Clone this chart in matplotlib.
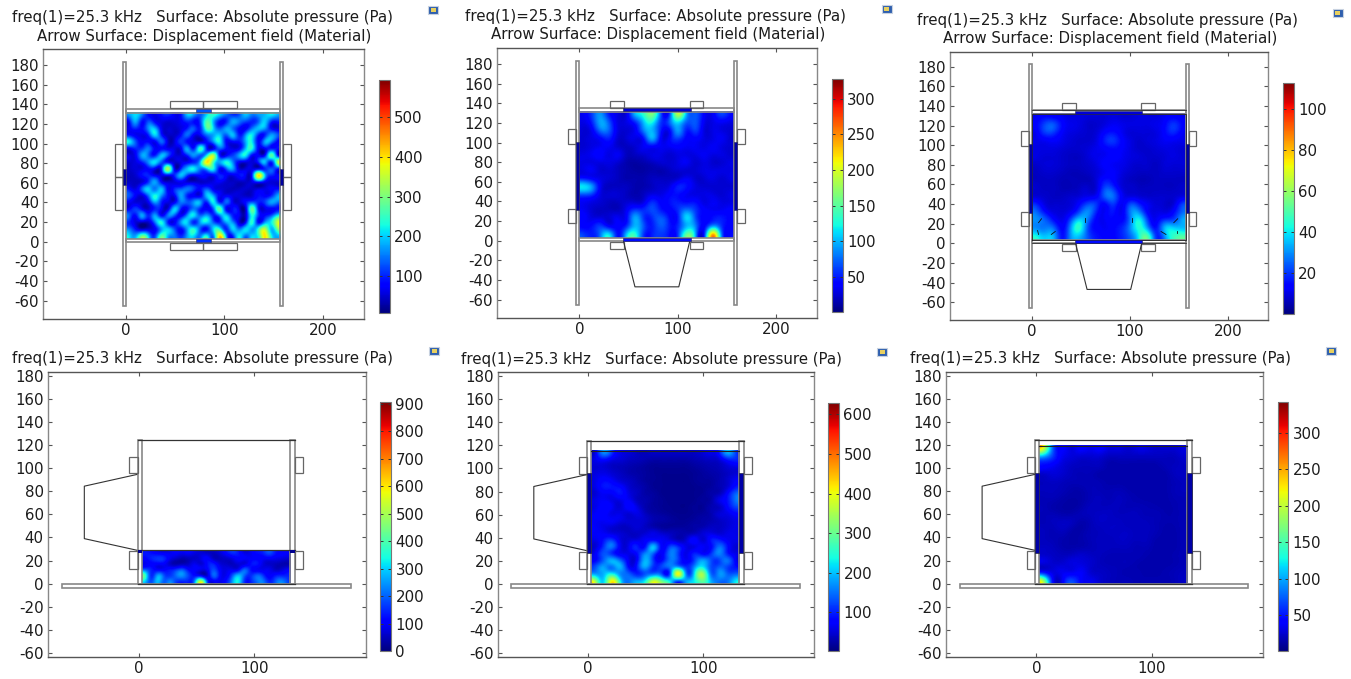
import numpy as np
import matplotlib
matplotlib.use("Agg")
import matplotlib.pyplot as plt
from matplotlib.patches import Rectangle
from matplotlib.cm import ScalarMappable
from matplotlib.colors import Normalize

plt.rcParams['font.family'] = 'DejaVu Sans'
plt.rcParams['axes.unicode_minus'] = False

W, H = 1351, 679
TITLE1 = "freq(1)=25.3 kHz   Surface: Absolute pressure (Pa)"
TITLE2 = "Arrow Surface: Displacement field (Material)"
Y_TICKS = [-60, -40, -20, 0, 20, 40, 60, 80, 100, 120, 140, 160, 180]
X_TICKS_TOP = [0, 100, 200]
X_TICKS_BOTTOM = [0, 100]

# colour ranges (Pa) and colourbar ticks
RANGE = [(8, 594), (1, 327), (0.2, 113), (0, 905), (2, 629), (1, 342)]
CB_TICKS = [[100, 200, 300, 400, 500], [50, 100, 150, 200, 250, 300],
            [20, 40, 60, 80, 100], [0, 100, 200, 300, 400, 500, 600, 700, 800, 900],
            [100, 200, 300, 400, 500, 600], [50, 100, 150, 200, 250, 300]]

# pressure fields, rows top to bottom
P1 = [
[165,210,150, 85, 60, 85,100, 70, 85,190,165,130,210,240,190,140,115,130,190,150,165,190,210,175],
[ 85,175, 85,130, 85, 60, 50, 55, 70,100, 85,115,270,190, 85,100,175,150,115,100,140,200, 100, 85],
[ 70,100, 85,165,190, 70, 50, 45, 60,100,130,100,255,210,130,175,150, 85, 75,150,190,165, 85, 60],
[100, 70, 60,100,200,100, 45, 45, 85,140, 70, 70,140,175,200,130,190,100,165,220,100,100,175,130],
[220,130, 75, 85, 70,140, 55, 55,115, 85, 60, 60, 85,150,220, 85, 75, 85,175,220, 85,175,150, 75],
[ 70,100,115,150, 75, 85, 70, 60, 70,175,100,250,100, 70,130, 85, 60, 75,190,230, 75, 70,100, 85],
[ 60, 75,175,140,100,190,130, 60, 55,100,165,130,220,340,100, 75,115,175,220, 85, 75, 85,270,100],
[ 50, 60,100,165,210,130, 85, 50, 60, 70,100,190,400,270,175,230,165, 75, 60, 55,100,190,100,320],
[ 45, 55, 60, 85, 70,100,330, 75,100,190,220,150,190,230, 85,130,175, 60, 55, 60, 75,100,130,100],
[ 40, 50, 85,100, 75, 60, 75,100,190,115, 70, 85, 75, 70,100, 75, 60, 85, 70,100,400,200,100, 75],
[ 45, 40, 55,115,175, 85, 50, 55, 70, 55, 50, 45, 50, 60, 70, 50, 45, 40, 45, 60,100, 70, 55, 50],
[ 85, 60,140,200,150,190, 75,100,130,150,115, 85,130, 75, 55, 45, 40, 45, 50, 45, 55, 60, 75, 85],
[130, 75, 60,150,230,165, 85, 75,175,100, 75, 70,190,175, 75, 70, 60, 55, 45, 50, 85, 75,100,175],
[ 70, 55, 50, 75,175,100, 60, 70,150,130,165,175,100,220,100,140, 70, 50, 85,130,100,115,175,150],
[ 75,115, 75, 50,100, 75, 60,200,100, 85,150,100, 75,130,270, 85, 85, 60, 50,280,100, 60, 75, 85],
[140, 85,175,100,175, 85,150,130, 75,165,210,140,175,100,150,200,100, 70, 50,230,115, 85,130,220],
[100, 55, 45, 50,150,230,100, 70,165,200,100,175,210,140,100,175,165, 60, 75,240, 85,165,220,360],
[150, 85, 45, 55, 75,175,200,130, 85,175,230,130, 85,200,230,100,200,150,210,175,240,340,190,300],
[210,175,280,190,115,270,190,150,100,175,210,150,220,150,400,175,100,220,150,200,240,400,230,190],
]
P2 = [
[ 35, 60, 90, 50, 30, 30, 95,130,160, 70, 60,180, 95, 70, 40, 35, 60, 45],
[ 30, 50, 95, 70, 30, 30, 50,100,120, 60, 70,110, 70, 70, 35, 30, 35, 30],
[ 25, 35, 75, 70, 30, 25, 35, 80,100, 50, 40, 90, 50, 60, 30, 30, 30, 25],
[ 25, 30, 40, 50, 25, 25, 30, 45, 95, 40, 40, 60, 40, 40, 30, 30, 35, 25],
[ 25, 30, 35, 35, 25, 20, 25, 35, 40, 35, 35, 40, 35, 35, 30, 35, 30, 25],
[ 30, 35, 40, 30, 35, 20, 20, 25, 30, 30, 25, 30, 30, 30, 35, 30, 30, 25],
[ 30, 30, 30, 30, 25, 15, 12, 15, 20, 25, 25, 30, 35, 25, 30, 25, 25, 30],
[ 30, 35, 25, 25, 20, 15, 12, 12, 15, 15, 20, 25, 25, 25, 30, 30, 30, 30],
[ 50, 40, 30, 25, 20, 15, 15, 15, 20, 20, 20, 25, 35, 25, 25, 30, 25, 30],
[115, 90, 35, 20, 20, 20, 15, 15, 20, 25, 30, 50, 45, 30, 25, 25, 25, 25],
[ 70, 60, 30, 25, 25, 20, 15, 20, 30, 30, 40, 45, 35, 30, 30, 30, 25, 30],
[ 35, 30, 25, 20, 20, 25, 25, 30, 55, 40, 45, 50, 45, 45, 30, 35, 30, 30],
[ 35, 25, 20, 20, 20, 35, 60, 55, 65, 50, 40, 55, 80, 60, 40, 35, 35, 40],
[ 40, 30, 30, 25, 35, 40, 95, 60, 55, 70, 45, 50,110, 70, 40, 45, 50, 40],
[ 40, 45, 60, 40, 40, 55,100, 70, 50, 70, 50, 55,100, 85, 40, 90, 60, 40],
[ 60, 50, 80,110, 45,100,130, 60, 50, 60, 45, 60,150,100, 45,230, 90, 40],
]
P3 = [
[12,15,14,12,10,10, 9, 9, 9,10, 9, 9,10,10,10,12,14,12],
[14,22,24,15,11,10, 8, 8,10,12,11,10,10,10,11,14,20,15],
[12,20,20,13,10, 9, 8, 9,14,16,12, 9, 9, 9,10,14,18,13],
[11,12,13,11, 9, 8, 8,10,17,20,14,10, 8, 9,10,12,12,11],
[10,10,10, 9, 8, 8, 9,11,13,15,13,10, 8, 8, 9,10,10, 9],
[10, 9, 9, 8, 7, 7, 9,11,12,14,12,10, 9, 8, 8, 9,10, 9],
[ 8, 9, 9, 8, 7, 7, 8,10,13,12,11, 9, 8, 8, 7, 9, 9, 9],
[ 7, 8, 8, 7, 6, 6, 7, 9,12,13,10, 8, 7, 7, 7, 8, 8, 8],
[ 7, 7, 7, 6, 6, 6, 6, 9,16,14, 9, 7, 6, 6, 7, 7, 7, 7],
[ 8, 7, 7, 6, 6, 7, 8, 9,22,20,10, 8, 7, 7, 7, 7, 7, 8],
[ 9, 8, 7, 7, 8, 9,11,13,24,26,13,10, 9, 8, 8, 8, 8,10],
[18,10, 8, 8, 9,14,22,20,14,20,12,22,18,12, 9, 8, 9,20],
[26,16,10, 9,12,22,30,18,12,16,12,28,30,14,10,10,14,25],
[30,25,16,11,22,38,28,14,12,14,14,28,42,22,12,20,22,32],
[30,28,26,14,30,45,24,14,12,14,18,30,44,32,16,34,38,36],
[42,36,34,16,30,36,24,16,14,14,18,26,42,50,20,30,46,50],
]
P4 = [
[130,120,100, 90, 90,100, 90,100, 80, 70, 60, 50, 70,110,150,130, 80, 90,120,140,180,130,110,100],
[110,140,160,150, 90, 60, 40, 50, 60, 80,110, 60, 50, 60, 80,110,100,100,110,100,100, 90, 80, 70],
[ 90,110,100,100, 60, 40, 50, 60, 90, 70,120,140, 80, 60, 50, 70, 80,120,130, 80, 60, 50, 40, 40],
[200,140,110,110,130,160,190,120,100, 80,100,180,110, 80, 90,110,200,130,100, 90, 90, 60, 70,100],
[380,150,250,190,160,210,240,170,120,100, 70,200,120, 90,180,280,200,150,200,160,100,130,140,140],
[300,180,280,200,230,170,150,140,240,520,180,100, 90,120,240,330,160,140,210,220,140,190,230,170],
]
P5 = [
[ 60,160,110, 60, 50, 40, 35, 40, 40, 40, 40, 40, 40, 50, 60, 90,180,120],
[ 60, 80, 60, 50, 40, 35, 30, 25, 25, 25, 25, 25, 30, 35, 40, 50, 90,100],
[ 50, 50, 40, 35, 30, 25, 20, 15, 15, 15, 15, 15, 20, 25, 30, 35, 50, 60],
[ 55, 60, 50, 40, 30, 25, 20, 15, 12, 12, 12, 12, 15, 20, 25, 30, 40, 50],
[ 60, 80, 70, 50, 40, 30, 20, 15, 12, 10, 10, 10, 15, 18, 20, 30, 45, 70],
[ 60, 90, 90, 80, 50, 35, 25, 15, 12, 10, 10, 10, 12, 15, 20, 30, 50, 90],
[ 50, 70, 70, 90, 60, 40, 25, 20, 12, 10, 10, 10, 12, 15, 25, 35, 80,140],
[ 60, 70, 60, 60, 70, 40, 30, 20, 15, 10, 10, 10, 12, 18, 25, 60, 90,150],
[ 60, 80, 70, 50, 80, 60, 30, 20, 15, 12, 10, 10, 15, 15, 30, 40, 80,120],
[ 70, 80, 60, 60, 50, 60, 40, 25, 20, 15, 12, 12, 15, 20, 30, 50, 60, 80],
[ 70, 70, 70, 60, 50, 50, 45, 30, 25, 20, 15, 15, 20, 25, 30, 40, 50, 60],
[ 70, 60, 50, 40, 40, 50, 40, 30, 20, 18, 20, 20, 25, 30, 40, 40, 50, 60],
[ 70, 70, 60, 50, 40, 40, 50, 60, 50, 40, 30, 30, 40, 50, 60, 50, 60, 60],
[ 60, 90,120, 60, 50, 60, 70, 90, 70, 60, 40, 50, 80, 50, 90,100, 70, 60],
[ 50,110,150, 70, 60,100, 90,200, 80,120,110, 60, 60, 70, 80,150, 90, 50],
[ 70,130,110, 70, 60, 80,160,140, 70,150,120, 60,100, 80,110,160,100, 60],
[ 80,140,190,150, 70, 70,190,120, 80,150,120, 70,120,180,130,120,150, 70],
[130,180,150,190, 90, 90,180,110,120,150,190,110,170,230,130,140,120, 90],
[180,190,240,170,140,100,130,150,130,120,400,160,220,340,150,170,140,140],
[340,210,400,240,150,180,220,360,300,220,150,180,230,300,190,150,150,220],
]
P6 = [
[200, 75, 40, 30, 40, 35, 40, 30, 30, 25, 30, 30, 25, 25, 25, 30],
[ 90, 60, 35, 28, 25, 25, 25, 20, 20, 20, 20, 20, 20, 20, 20, 25],
[ 45, 38, 28, 22, 20, 20, 20, 15, 15, 15, 15, 15, 15, 18, 20, 22],
[ 25, 28, 25, 20, 18, 18, 15, 15, 15, 15, 15, 15, 15, 15, 20, 22],
[ 20, 22, 20, 18, 18, 18, 17, 15, 15, 15, 15, 15, 15, 15, 18, 20],
[ 20, 20, 18, 15, 15, 18, 18, 17, 18, 16, 15, 15, 15, 15, 18, 20],
[ 18, 18, 15, 13, 14, 18, 20, 18, 20, 18, 16, 15, 15, 15, 17, 18],
[ 18, 15, 13, 12, 15, 20, 20, 20, 20, 18, 18, 17, 16, 15, 16, 18],
[ 18, 18, 16, 16, 18, 20, 22, 22, 20, 20, 20, 18, 18, 16, 16, 18],
[ 18, 20, 22, 20, 15, 18, 22, 22, 22, 20, 20, 20, 18, 16, 16, 18],
[ 20, 18, 20, 15, 14, 18, 20, 22, 22, 22, 20, 20, 18, 15, 15, 18],
[ 20, 18, 16, 14, 15, 18, 20, 20, 22, 22, 20, 20, 16, 15, 15, 18],
[ 22, 20, 16, 15, 16, 18, 20, 20, 20, 20, 18, 18, 15, 15, 15, 18],
[ 25, 22, 20, 22, 25, 22, 20, 18, 18, 18, 18, 16, 15, 15, 16, 18],
[ 28, 25, 26, 30, 30, 25, 20, 18, 18, 18, 16, 15, 15, 15, 16, 18],
[ 42, 30, 34, 34, 38, 26, 22, 20, 18, 16, 16, 15, 15, 16, 18, 20],
[170, 42, 36, 65, 42, 34, 25, 20, 18, 18, 16, 16, 16, 16, 18, 22],
]
FIELDS = [P1, P2, P3, P4, P5, P6]
FIELD_EXT = [(0, 157, 3, 131.5), (0, 157, 3, 131.5), (0, 157, 3, 131.5),
             (2.6, 131, 0, 29), (2.6, 131, 0, 115.5), (2.6, 131.5, 0, 119.5)]

# outlines of the device: (x, y, width, height)
TOP_PLATES = [(-3, -66, 3, 249), (157, -66, 3, 249), (0, 131.5, 157, 4), (0, 0, 157, 3)]
P1_PIECES = [(44.7, 136, 34, 7), (78.7, 136, 34, 7), (44.7, -8, 34, 7), (78.7, -8, 34, 7),
             (-11, 32, 8, 34), (-11, 66, 8, 34), (160, 32, 8, 34), (160, 66, 8, 34)]
P1_STRIPS = [(71, 132, 16, 3, 130), (71, 0, 16, 3, 110), (-3, 58, 3, 16, 25), (157, 58, 3, 16, 25)]
SIDE_PIECES = [(31, 135.5, 14, 7), (112, 135.5, 14, 7), (31, -8, 14, 7), (112, -8, 14, 7),
               (-11, 99, 8, 15), (-11, 18, 8, 14), (160, 99, 8, 15), (160, 18, 8, 14)]
P2_STRIPS = [(44, 132, 69, 3, 25), (44, 0, 69, 3, 45), (-3, 31, 3, 70, 12), (157, 31, 3, 70, 12)]
TRAP_TOP = ([45, 56.5, 101, 112], [-1, -47, -47, -1])
BOTTOM_PLATES = [(-66.5, -3.5, 250, 3.2), (-1, 0, 3.6, 124), (131, 0, 4, 124)]
BOTTOM_PIECES = [(-8, 95.5, 7, 14.5), (-8, 13, 7, 15), (135, 95.5, 7, 14.5), (135, 13, 7, 15)]
TRAP_BOTTOM = ([-1.7, -47, -47, -1.7], [94.5, 84.4, 39, 29])
P3_ARROWS = [(54, 22, 54, 26), (102, 22, 102, 26), (7, 21, 10, 25), (145, 21, 149, 25),
             (6, 13, 7, 9), (20, 9, 24, 12), (132, 12, 137, 9), (148, 13, 148, 10)]

# pixel layout: axes (left, right, top, bottom), x0 pixel, y0 pixel, x scale, y scale
AXES_PX = [(43.3, 364, 49.3, 319, 125.7, 241.7, 0.985, 0.9815),
           (497.3, 817.3, 48.3, 318.3, 579.3, 240.7, 0.985, 0.9815),
           (950, 1268.3, 51.7, 320.3, 1031.7, 243.3, 0.98, 0.9815),
           (47.7, 365.7, 371.7, 657.3, 138.7, 583.7, 1.157, 1.1555),
           (497.7, 814, 372.3, 657.3, 588, 584, 1.153, 1.1555),
           (945.7, 1262.7, 371.7, 657.3, 1036.3, 583.7, 1.153, 1.1555)]
CB_PX = [(379, 389.7, 80, 312.7), (832, 843, 79.3, 312), (1283.3, 1294, 82.7, 314),
         (380.3, 391.3, 402.3, 651), (828.3, 839.3, 403, 651), (1277.7, 1288.3, 402.3, 651)]
TITLE_PX = [(202, 17.5, 204, 36), (655.8, 16.7, 658, 35), (1107.7, 20.7, 1110, 39),
            (202.3, 358.3), (651.3, 359.3), (1100, 358.3)]
ICON_PX = [(433, 10), (886.7, 9.3), (1337.7, 13), (434, 351), (882.3, 352), (1331, 351)]

fig = plt.figure(figsize=(W / 100, H / 100), dpi=100, facecolor='white')
TEXT = '#1c1c1c'
FS = 10.8


def add_px_axes(l, r, t, b, **kw):
    return fig.add_axes([l / W, 1 - b / H, (r - l) / W, (b - t) / H], **kw)


def rects(ax, items, ec, lw=0.9, fc='none', z=4):
    for x, y, w, h in items:
        ax.add_patch(Rectangle((x, y), w, h, fc=fc, ec=ec, lw=lw, zorder=z))


for i in range(6):
    l, r, t, b, x0, y0, sx, sy = AXES_PX[i]
    ax = add_px_axes(l, r, t, b)
    vmin, vmax = RANGE[i]
    norm = Normalize(vmin, vmax)
    ax.imshow(np.array(FIELDS[i], float), cmap='jet', norm=norm, extent=FIELD_EXT[i],
              origin='upper', aspect='auto', interpolation='lanczos', zorder=2)
    ax.set_xlim((l - x0) / sx, (r - x0) / sx)
    ax.set_ylim((y0 - b) / sy, (y0 - t) / sy)
    edge = '#888888'
    dark = '#333333'
    if i < 3:
        rects(ax, TOP_PLATES, edge, lw=1.2)
        if i == 2:
            ax.plot([0, 157, 157, 0, 0], [3, 3, 131.5, 131.5, 3], color='#222222', lw=0.6, zorder=5)
            ax.plot([0, 157], [135.5, 135.5], color='#333333', lw=0.6, zorder=5)
            ax.plot([0, 157], [0, 0], color='#333333', lw=0.6, zorder=5)
        if i == 0:
            rects(ax, P1_PIECES, '#666666')
            for x, y, w, h, v in P1_STRIPS:
                ax.add_patch(Rectangle((x, y), w, h, fc=plt.cm.jet(norm(v)), ec='#333366', lw=0.4, zorder=5))
        else:
            rects(ax, SIDE_PIECES, '#666666')
            for x, y, w, h, v in P2_STRIPS:
                val = v * (vmax / 327)
                ax.add_patch(Rectangle((x, y), w, h, fc=plt.cm.jet(norm(val)), ec='#222255', lw=0.4, zorder=5))
            ax.plot(TRAP_TOP[0], TRAP_TOP[1], color=dark, lw=0.8, zorder=4)
        if i == 2:
            for xa, ya, xb, yb in P3_ARROWS:
                ax.plot([xa, xb], [ya, yb], color='#111111', lw=0.6, zorder=6)
    else:
        rects(ax, BOTTOM_PLATES, edge, lw=1.2)
        rects(ax, BOTTOM_PIECES, '#666666')
        ax.plot(TRAP_BOTTOM[0], TRAP_BOTTOM[1], color=dark, lw=0.8, zorder=4)
        ax.plot([-1, 135], [124, 124], color=dark, lw=0.9, zorder=5)
        ax.plot([-1, 135], [0, 0], color=dark, lw=0.9, zorder=5)
        if i == 3:
            ax.plot([-1, 135], [29.5, 29.5], color=dark, lw=0.9, zorder=5)
            for x in (-1, 131):
                ax.add_patch(Rectangle((x, 27), 3.8, 2.5, fc='#000090', ec='none', zorder=5))
        else:
            top = FIELD_EXT[i][3]
            ax.plot([2.6, 131], [top, top], color='#222222', lw=0.8, zorder=5)
            for x in (-1, 131):
                ax.add_patch(Rectangle((x, 27), 3.7, 69, fc='#0000a8', ec='#222244', lw=0.5, zorder=5))
    ax.set_yticks(Y_TICKS)
    ax.set_xticks(X_TICKS_TOP if i < 3 else X_TICKS_BOTTOM)
    ax.tick_params(direction='in', length=3, width=0.8, color='#555555', top=True, right=True,
                   labelsize=FS, labelcolor=TEXT, pad=3)
    for side, s in ax.spines.items():
        s.set_color('#555555' if side in ('top', 'bottom') else '#888888')
        s.set_linewidth(1.0)
    cl, cr, ct, cb_ = CB_PX[i]
    cax = add_px_axes(cl, cr, ct, cb_)
    cb = fig.colorbar(ScalarMappable(norm=norm, cmap='jet'), cax=cax)
    cb.set_ticks(CB_TICKS[i])
    cax.tick_params(direction='in', length=2.5, width=0.7, color='#333333', right=True, left=True,
                    labelsize=FS, labelcolor=TEXT, pad=3)
    cb.outline.set_edgecolor('#777777')
    cb.outline.set_linewidth(0.8)
    tp = TITLE_PX[i]
    fig.text(tp[0] / W, 1 - tp[1] / H, TITLE1, ha='center', va='center', fontsize=FS, color=TEXT)
    if i < 3:
        fig.text(tp[2] / W, 1 - tp[3] / H, TITLE2, ha='center', va='center', fontsize=FS, color=TEXT)
    ix, iy = ICON_PX[i]
    fig.add_artist(Rectangle(((ix - 5) / W, 1 - (iy + 4) / H), 10 / W, 8 / H, transform=fig.transFigure,
                             fc='#2f5fae', ec='#c8d2e0', lw=0.8))
    fig.add_artist(Rectangle(((ix - 2.5) / W, 1 - (iy + 2) / H), 5 / W, 4 / H, transform=fig.transFigure,
                             fc='#e8d060', ec='none'))

fig.savefig('out.png', dpi=100)
